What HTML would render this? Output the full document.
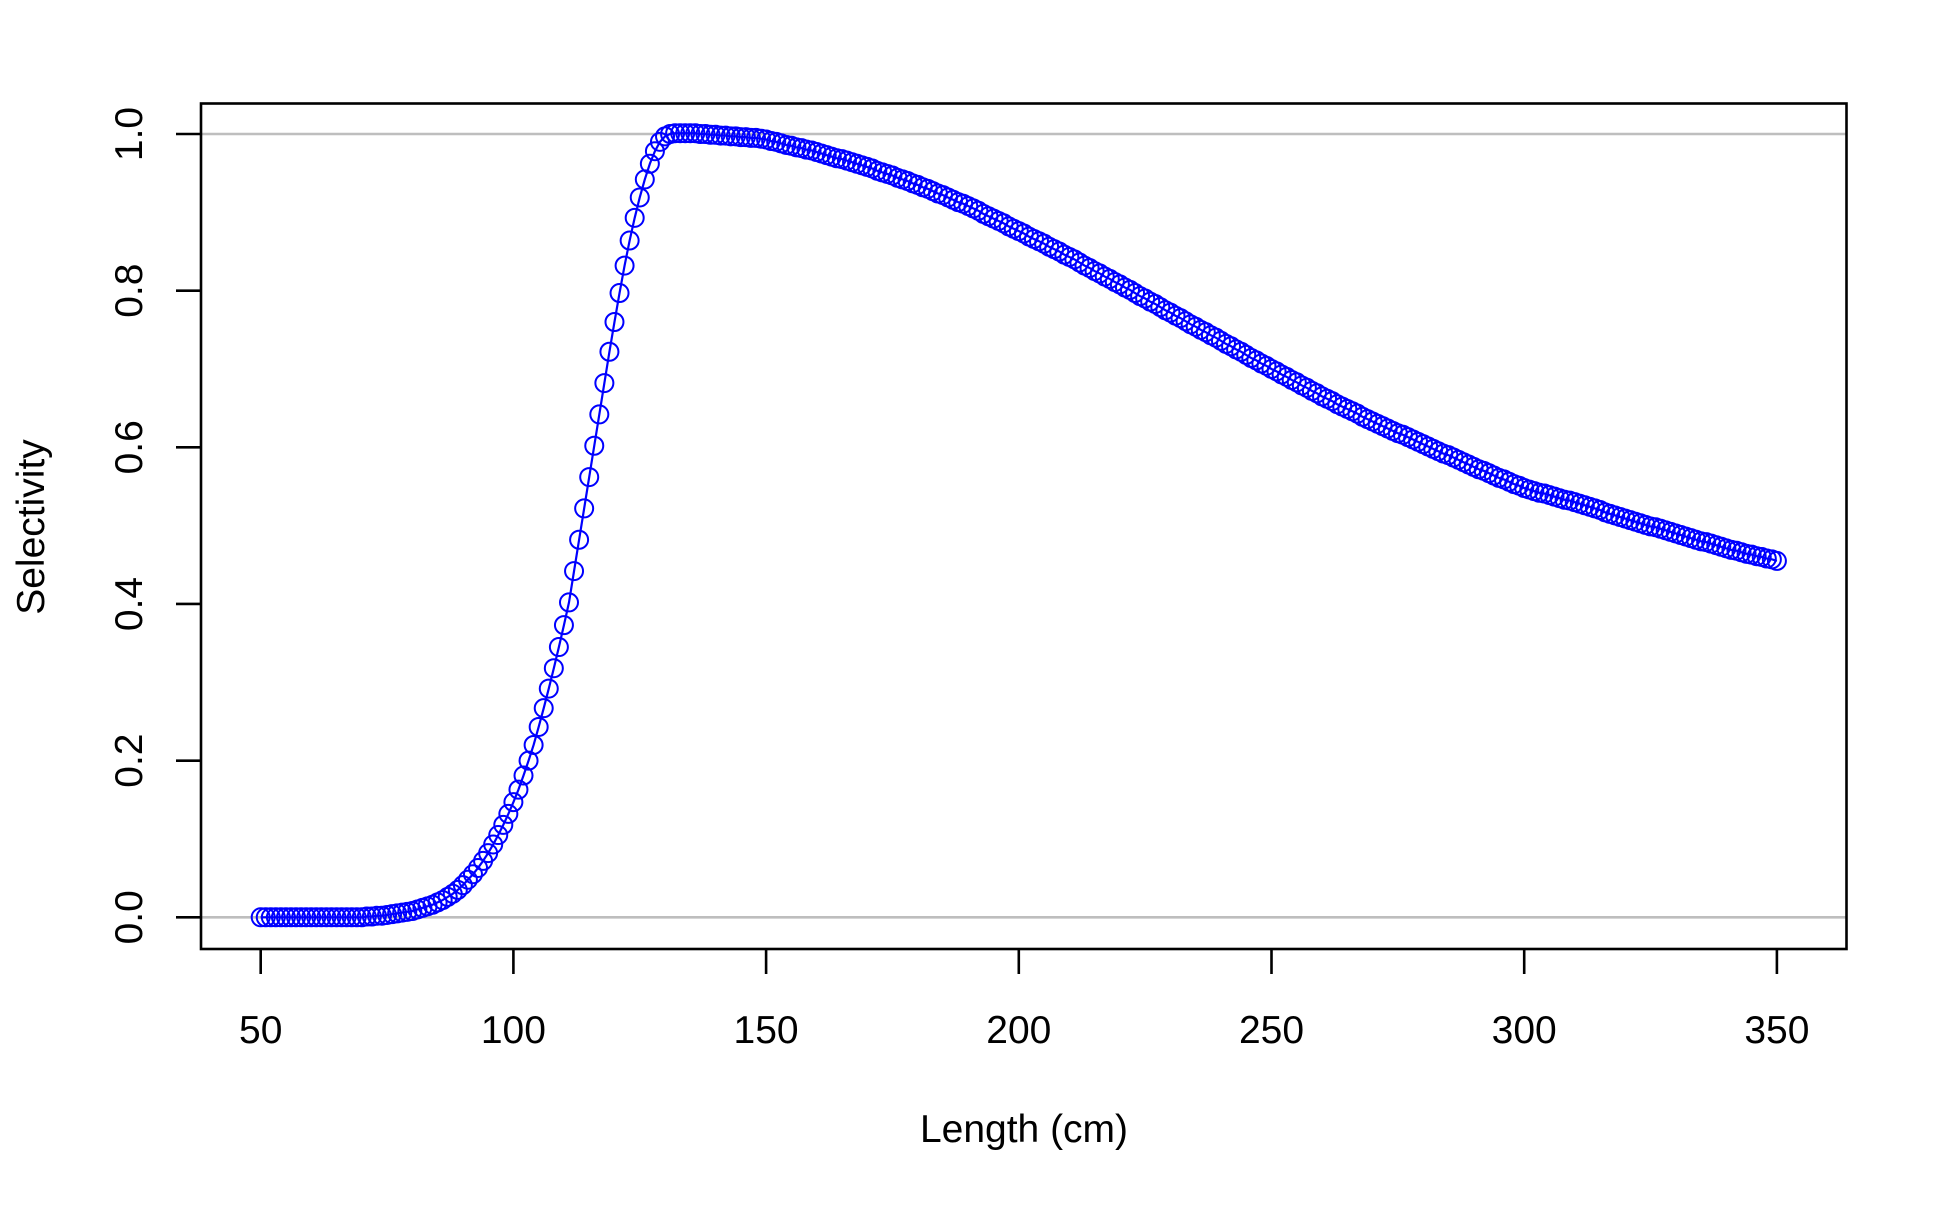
<!DOCTYPE html>
<html><head><meta charset="utf-8"><style>
body{margin:0;background:#fff}
svg text{font-family:"Liberation Sans",Arial,sans-serif;fill:#000}
</style></head><body>
<svg width="1950" height="1200" viewBox="0 0 1950 1200" xmlns="http://www.w3.org/2000/svg">
<rect x="0" y="0" width="1950" height="1200" fill="#fff"/>
<g id="grid"></g>
<g id="series"></g>
<rect x="201" y="103.5" width="1645.5" height="845.5" fill="none" stroke="#000" stroke-width="2.6"/>
<g id="axes"></g>
<text x="1024" y="1142" font-size="39" text-anchor="middle">Length (cm)</text>
<text transform="translate(44,527) rotate(-90)" font-size="39" text-anchor="middle">Selectivity</text>
</svg>
<script>
const xTicks = [50,100,150,200,250,300,350];
const yTicks = [0.0,0.2,0.4,0.6,0.8,1.0];
const yTickLabels = ["0.0","0.2","0.4","0.6","0.8","1.0"];
const refLines = [0,1];
const lengthStart = 50;
const selectivity = [
0,0,0,0,0,0,0,0,0,0,0,0,0,0,0,0,0,0,0,0,0,
0.001,0.001,0.002,0.002,0.003,
0.004,0.005,0.006,0.007,0.008,0.010,0.012,0.014,0.016,0.019,
0.022,0.026,0.030,0.035,0.041,0.048,0.055,0.063,0.072,0.082,
0.093,0.105,0.118,0.132,0.147,0.163,0.181,0.200,0.220,0.243,
0.267,0.292,0.318,0.345,0.373,0.402,0.442,0.482,0.522,0.562,
0.602,0.642,0.682,0.722,0.760,0.797,0.832,0.864,0.893,0.919,
0.942,0.962,0.978,0.990,0.997,
1.000,1.001,1.001,1.001,1.001,1.001,1.000,1.000,0.999,0.999,
0.998,0.998,0.997,0.997,0.996,0.996,0.995,0.995,0.994,0.993,
0.991,0.990,0.988,0.986,0.985,0.983,0.982,0.980,0.979,0.977,
0.975,0.973,0.971,0.969,0.968,0.966,0.964,0.962,0.960,0.958,
0.956,0.953,0.951,0.949,0.947,0.944,0.942,0.940,0.937,0.935,
0.932,0.930,0.927,0.924,0.922,0.919,0.916,0.913,0.911,0.908,
0.905,0.902,0.898,0.895,0.892,0.889,0.886,0.882,0.879,0.876,
0.873,0.869,0.866,0.863,0.860,0.856,0.853,0.850,0.846,0.843,
0.840,0.836,0.832,0.829,0.825,0.822,0.818,0.815,0.811,0.808,
0.804,0.801,0.797,0.793,0.790,0.786,0.783,0.779,0.775,0.772,
0.768,0.765,0.761,0.757,0.754,0.750,0.747,0.743,0.740,0.736,
0.732,0.729,0.725,0.722,0.718,0.714,0.711,0.707,0.704,0.700,
0.697,0.693,0.690,0.686,0.683,0.679,0.676,0.672,0.669,0.665,
0.662,0.659,0.655,0.652,0.649,0.646,0.643,0.639,0.636,0.633,
0.630,0.627,0.624,0.621,0.618,0.616,0.613,0.610,0.607,0.604,
0.601,0.598,0.595,0.592,0.590,0.587,0.584,0.581,0.578,0.575,
0.572,0.570,0.567,0.564,0.561,0.559,0.556,0.553,0.551,0.548,
0.546,0.544,0.542,0.541,0.539,0.537,0.535,0.533,0.532,0.530,
0.528,0.526,0.524,0.522,0.520,0.517,0.515,0.513,0.511,0.509,
0.507,0.505,0.503,0.501,0.499,0.498,0.496,0.494,0.492,0.490,
0.488,0.486,0.484,0.482,0.480,0.479,0.477,0.475,0.473,0.471,
0.469,0.468,0.466,0.464,0.463,0.461,0.460,0.458,0.457,0.455
];
const NS = "http://www.w3.org/2000/svg";
function xs(v){ return 260.7 + (v - 50) * 5.054; }
function ys(v){ return 917.3 - v * 783.3; }
function mk(tag, attrs, parent){
  const el = document.createElementNS(NS, tag);
  for (const k in attrs) el.setAttribute(k, attrs[k]);
  parent.appendChild(el);
  return el;
}
const grid = document.getElementById('grid');
const series = document.getElementById('series');
const axes = document.getElementById('axes');
refLines.forEach(v => {
  const l = mk('line', {x1:201, x2:1846.5, y1:ys(v), y2:ys(v), stroke:'#bebebe', 'stroke-width':2.6}, grid);
  
  
});
xTicks.forEach(v => {
  const t = mk('line', {x1:xs(v), x2:xs(v), y1:949, y2:974, stroke:'#000', 'stroke-width':2.6}, axes);
  
  
  const tx = mk('text', {x:xs(v), y:1043, 'font-size':39, 'text-anchor':'middle'}, axes);
  tx.textContent = String(v);
  
  
});
yTicks.forEach((v, i) => {
  const t = mk('line', {x1:176, x2:201, y1:ys(v), y2:ys(v), stroke:'#000', 'stroke-width':2.6}, axes);
  
  
  const tx = mk('text', {transform:'translate(142,' + ys(v) + ') rotate(-90)', 'font-size':39, 'text-anchor':'middle'}, axes);
  tx.textContent = yTickLabels[i];
  
  
});
const pts = selectivity.map((v, i) => xs(lengthStart + i).toFixed(2) + ',' + ys(v).toFixed(2)).join(' ');
const line = mk('polyline', {points:pts, fill:'none', stroke:'#0000ff', 'stroke-width':2.2}, series);


selectivity.forEach((v, i) => {
  const c = mk('circle', {cx:xs(lengthStart + i), cy:ys(v), r:9, fill:'none', stroke:'#0000ff', 'stroke-width':2}, series);
  
  
});
</script>
</body></html>
